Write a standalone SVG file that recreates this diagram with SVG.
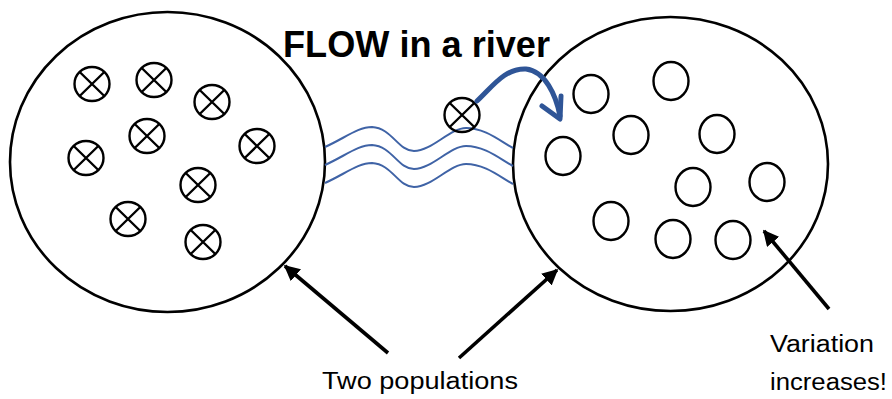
<svg xmlns="http://www.w3.org/2000/svg" width="892" height="399" viewBox="0 0 892 399">
<defs>
<style>
.pop{fill:none;stroke:#000;stroke-width:2.6}
.dot{fill:none;stroke:#000;stroke-width:2.4}
.river{fill:none;stroke:#3f63a6;stroke-width:2}
.flow{fill:none;stroke:#2f5597;stroke-width:5;stroke-linecap:round;stroke-linejoin:round}
.ptr{fill:none;stroke:#000;stroke-width:3.6}
.lbl{font-family:"Liberation Sans",Arial,sans-serif;font-size:23px;fill:#000}
.title{font-family:"Liberation Sans",Arial,sans-serif;font-size:37px;font-weight:bold;fill:#000}
</style>
<symbol id="xc" viewBox="-20 -20 40 40" overflow="visible">
<ellipse cx="0" cy="0" rx="17.5" ry="17" class="dot"/>
<path d="M-12.3,-12 L12.3,12 M-12.3,12 L12.3,-12" class="dot"/>
</symbol>
<marker id="ah" viewBox="0 0 10 10" refX="9" refY="5" markerWidth="4.4" markerHeight="4.4" orient="auto" markerUnits="strokeWidth">
<path d="M0,0 L10,5 L0,10 z" fill="#000"/>
</marker>
</defs>
<rect width="892" height="399" fill="#fff"/>

<g id="left-population">
<ellipse cx="167.5" cy="162" rx="157.5" ry="150" class="pop"/>
<use href="#xc" x="72" y="64" width="40" height="40"/>
<use href="#xc" x="134" y="60" width="40" height="40"/>
<use href="#xc" x="192" y="82" width="40" height="40"/>
<use href="#xc" x="127" y="116" width="40" height="40"/>
<use href="#xc" x="237" y="126" width="40" height="40"/>
<use href="#xc" x="66" y="138" width="40" height="40"/>
<use href="#xc" x="178" y="165" width="40" height="40"/>
<use href="#xc" x="108" y="199" width="40" height="40"/>
<use href="#xc" x="183" y="222" width="40" height="40"/>
</g>

<g id="right-population">
<ellipse cx="670.5" cy="164" rx="157.5" ry="147" class="pop"/>
<ellipse cx="591" cy="94" rx="17.5" ry="19" class="dot"/>
<ellipse cx="671" cy="81" rx="17.5" ry="19" class="dot"/>
<ellipse cx="631" cy="135" rx="17.5" ry="19" class="dot"/>
<ellipse cx="717" cy="134" rx="17.5" ry="19" class="dot"/>
<ellipse cx="563" cy="156" rx="17.5" ry="19" class="dot"/>
<ellipse cx="693" cy="187" rx="17.5" ry="19" class="dot"/>
<ellipse cx="767" cy="182" rx="17.5" ry="19" class="dot"/>
<ellipse cx="611" cy="221" rx="17.5" ry="19" class="dot"/>
<ellipse cx="673" cy="239" rx="17.5" ry="19" class="dot"/>
<ellipse cx="733" cy="240" rx="17.5" ry="19" class="dot"/>
</g>

<g id="river">
<path class="river" d="M325,147 C345,138 358,127 372,127 C392,128 398,151 414,151 C432,151 450,128 466,128 C485,128 500,141 513,148"/>
<path class="river" d="M325,165 C345,156 358,145 372,145 C392,146 398,169 414,169 C432,169 450,146 466,146 C485,146 500,159 513,166"/>
<path class="river" d="M325,183 C345,174 358,163 372,163 C392,164 398,187 414,187 C432,187 450,164 466,164 C485,164 500,177 513,184"/>
</g>

<g id="migrant">
<use href="#xc" x="442" y="95" width="40" height="40"/>
</g>

<g id="connectors">
<path class="flow" d="M477,101 C493,86 505,68 526,69 C545,71 556,95 560,116"/>
<path class="flow" d="M542,106 L560,119 L561,96"/>
<line class="ptr" x1="388" y1="353" x2="285" y2="266" marker-end="url(#ah)"/>
<line class="ptr" x1="459" y1="358" x2="557" y2="270" marker-end="url(#ah)"/>
<line class="ptr" x1="829" y1="309" x2="764" y2="231" marker-end="url(#ah)"/>
</g>

<g id="labels">
<text class="title" x="283" y="57" textLength="267" lengthAdjust="spacingAndGlyphs">FLOW in a river</text>
<text class="lbl" x="322" y="389" textLength="196" lengthAdjust="spacingAndGlyphs">Two populations</text>
<text class="lbl" x="770" y="352" textLength="104" lengthAdjust="spacingAndGlyphs">Variation</text>
<text class="lbl" x="770" y="390" textLength="117" lengthAdjust="spacingAndGlyphs">increases!</text>
</g>
</svg>
